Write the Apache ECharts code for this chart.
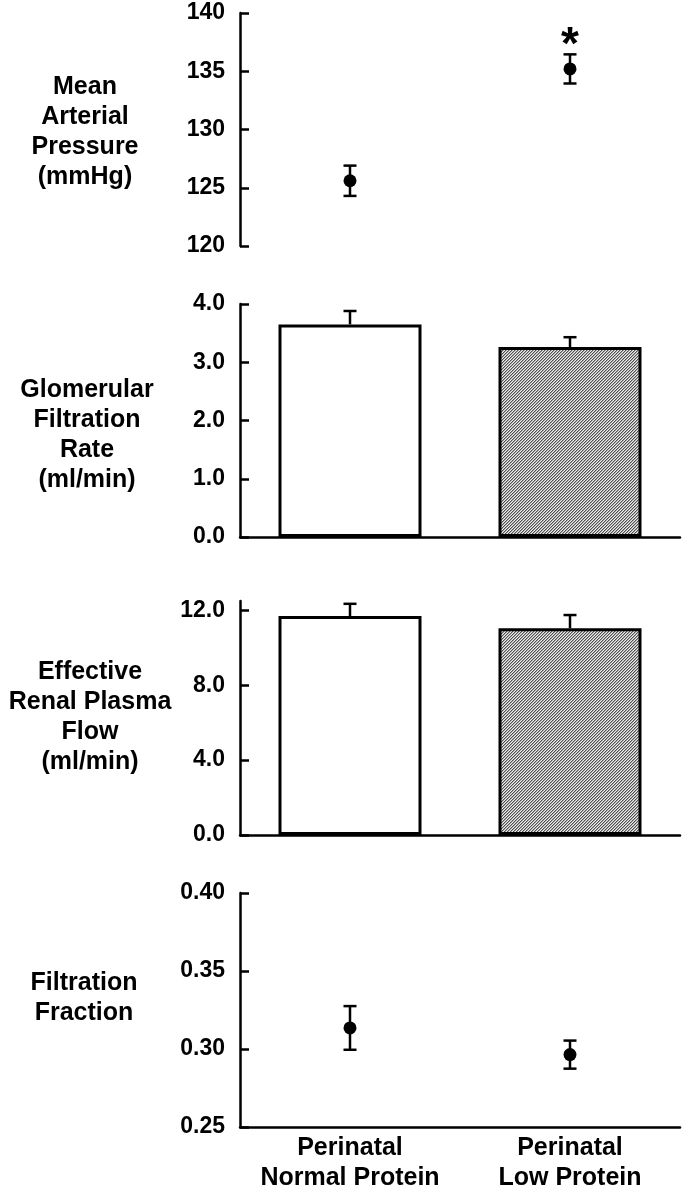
<!DOCTYPE html>
<html><head><meta charset="utf-8">
<script src="https://cdn.jsdelivr.net/npm/echarts@6/dist/echarts.min.js"></script>
<style>html,body{margin:0;padding:0;background:#fff}#c{width:685px;height:1194px}</style>
</head><body><div id="c"></div>
<script>
// ---- data ----
const categories = ['Perinatal\nNormal Protein', 'Perinatal\nLow Protein'];
const mapMean = [125.6, 135.2];
const mapSem = [1.3, 1.25];
const mapSig = ['', '*'];
const gfrMean = [3.65, 3.26];
const gfrSem = [0.23, 0.17];
const erpfMean = [11.7, 11.05];
const erpfSem = [0.65, 0.7];
const ffMean = [0.3135, 0.2964];
const ffSem = [0.014, 0.009];
const erpfTicks = [0, 4, 8, 12];
const panelTitles = [
  'Mean\nArterial\nPressure\n(mmHg)',
  'Glomerular\nFiltration\nRate\n(ml/min)',
  'Effective\nRenal Plasma\nFlow\n(ml/min)',
  'Filtration\nFraction'
];

// ---- styling ----
const FONT = '"Liberation Sans", Arial, Helvetica, sans-serif';
const pc = document.createElement('canvas');
pc.width = 3; pc.height = 3;
const ctx = pc.getContext('2d');
const shades = ['#505050', '#a8a8a8', '#ececec'];
for (let x = 0; x < 3; x++) for (let y = 0; y < 3; y++) {
  ctx.fillStyle = shades[(x + y) % 3];
  ctx.fillRect(x, y, 1, 1);
}
const hatch = { image: pc, repeat: 'repeat' };

const grids = [
  { left: 240, right: 5, top: 13, height: 233 },
  { left: 240, right: 5, top: 304, height: 233 },
  { left: 240, right: 5, top: 601, height: 234 },
  { left: 240, right: 5, top: 893, height: 234 }
];

function xAx(i, showLine, showLabel) {
  return {
    type: 'category', gridIndex: i, data: categories, boundaryGap: true,
    axisLine: { show: showLine, lineStyle: { color: '#000', width: 2.5 } },
    axisTick: { show: false },
    axisLabel: { show: showLabel, interval: 0, color: '#000', fontSize: 25, fontWeight: 'bold', fontFamily: FONT, lineHeight: 30, margin: 6 },
    splitLine: { show: false }
  };
}
function yAx(i, min, max, interval, digits, custom) {
  const a = {
    type: 'value', gridIndex: i, min: min, max: max, interval: interval,
    axisLine: { show: true, lineStyle: { color: '#000', width: 2.5 } },
    axisTick: { show: true, inside: true, length: 9, lineStyle: { color: '#000', width: 2.5 } },
    axisLabel: { color: '#000', fontSize: 23, fontWeight: 'bold', fontFamily: FONT, margin: 15,
      formatter: v => Number(v).toFixed(digits) },
    splitLine: { show: false }
  };
  if (custom) { a.axisTick.customValues = custom; a.axisLabel.customValues = custom; }
  return a;
}

function errRender(upOnly) {
  return function (params, api) {
    const x = api.value(0), m = api.value(1), s = api.value(2);
    const top = api.coord([x, m + s]);
    const bot = api.coord([x, upOnly ? m : m - s]);
    const hw = 6.5;
    const st = { stroke: '#000', lineWidth: 2.5 };
    const ch = [
      { type: 'line', shape: { x1: top[0], y1: top[1], x2: bot[0], y2: bot[1] }, style: st },
      { type: 'line', shape: { x1: top[0] - hw, y1: top[1], x2: top[0] + hw, y2: top[1] }, style: st }
    ];
    if (!upOnly) ch.push({ type: 'line', shape: { x1: bot[0] - hw, y1: bot[1], x2: bot[0] + hw, y2: bot[1] }, style: st });
    return { type: 'group', children: ch };
  };
}
const errData = (mean, sem) => mean.map((m, i) => [i, m, sem[i]]);
const barData = vals => vals.map((v, i) => ({
  value: v,
  itemStyle: { color: i === 0 ? '#fff' : hatch, borderColor: '#000', borderWidth: 3 }
}));

const option = {
  animation: false,
  backgroundColor: '#fff',
  grid: grids,
  xAxis: [xAx(0, false, false), xAx(1, true, false), xAx(2, true, false), xAx(3, true, true)],
  yAxis: [
    yAx(0, 120, 140, 5, 0),
    yAx(1, 0, 4, 1, 1),
    yAx(2, 0, 12.5, 4, 1, erpfTicks),
    yAx(3, 0.25, 0.40, 0.05, 2)
  ],
  graphic: panelTitles.map((t, i) => ({
    type: 'text',
    x: [85, 87, 90, 84][i],
    y: [72, 375, 657, 968][i],
    style: { text: t, textAlign: 'center', textVerticalAlign: 'top', fontSize: 25, fontWeight: 'bold',
      fontFamily: FONT, lineHeight: 30, fill: '#000' }
  })),
  series: [
    { type: 'custom', xAxisIndex: 0, yAxisIndex: 0, renderItem: errRender(false), data: errData(mapMean, mapSem), z: 2 },
    { type: 'scatter', xAxisIndex: 0, yAxisIndex: 0, data: mapMean, symbol: 'circle', symbolSize: 13,
      itemStyle: { color: '#000', opacity: 1 }, z: 3,
      label: { show: true, position: 'top', distance: -7, formatter: p => mapSig[p.dataIndex],
        fontSize: 46, fontWeight: 'bold', fontFamily: FONT, color: '#000' } },
    { type: 'bar', xAxisIndex: 1, yAxisIndex: 1, data: barData(gfrMean), barWidth: '65%', z: 2 },
    { type: 'custom', xAxisIndex: 1, yAxisIndex: 1, renderItem: errRender(true), data: errData(gfrMean, gfrSem), z: 3 },
    { type: 'bar', xAxisIndex: 2, yAxisIndex: 2, data: barData(erpfMean), barWidth: '65%', z: 2 },
    { type: 'custom', xAxisIndex: 2, yAxisIndex: 2, renderItem: errRender(true), data: errData(erpfMean, erpfSem), z: 3 },
    { type: 'custom', xAxisIndex: 3, yAxisIndex: 3, renderItem: errRender(false), data: errData(ffMean, ffSem), z: 2 },
    { type: 'scatter', xAxisIndex: 3, yAxisIndex: 3, data: ffMean, symbol: 'circle', symbolSize: 13,
      itemStyle: { color: '#000', opacity: 1 }, z: 3 }
  ]
};
const chart = echarts.init(document.getElementById('c'), null, { renderer: 'canvas' });
chart.setOption(option);
</script>
</body></html>
